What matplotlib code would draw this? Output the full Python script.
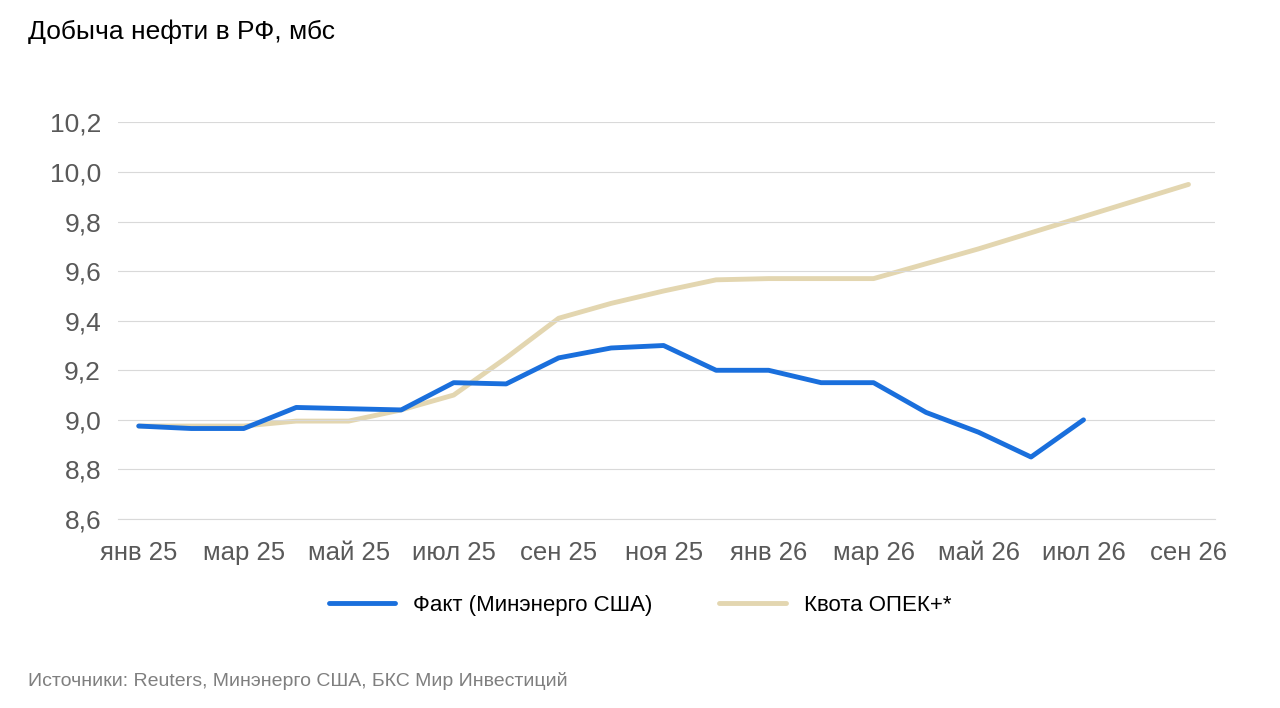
import matplotlib
matplotlib.use("Agg")
import matplotlib.pyplot as plt

months = ["янв 25","фев 25","мар 25","апр 25","май 25","июн 25","июл 25","авг 25","сен 25","окт 25","ноя 25","дек 25",
          "янв 26","фев 26","мар 26","апр 26","май 26","июн 26","июл 26","авг 26","сен 26"]
fact = [8.975, 8.965, 8.965, 9.05, 9.045, 9.04, 9.15, 9.145, 9.25, 9.29, 9.30, 9.20, 9.20, 9.15, 9.15, 9.03, 8.95, 8.85, 9.00]
quota = [8.975, 8.975, 8.975, 8.995, 8.995, 9.04, 9.10, 9.25, 9.41, 9.47, 9.52, 9.565, 9.57, 9.57, 9.57, 9.63, 9.69, 9.755, 9.82, 9.885, 9.95]
yticks = [8.6, 8.8, 9.0, 9.2, 9.4, 9.6, 9.8, 10.0, 10.2]

plt.rcParams['font.family'] = ['Liberation Sans', 'DejaVu Sans']
fig = plt.figure(figsize=(12.8, 7.08), dpi=100)
ax = fig.add_axes([0.092, 0.267, 0.857, 0.56])
x = list(range(len(months)))
ax.plot(x[:len(fact)], fact, color="#1a6fdc", lw=3.5, solid_joinstyle="round", solid_capstyle="round",
        label="Факт (Минэнерго США)")
ax.plot(x, quota, color="#e3d6b0", lw=3.5, solid_joinstyle="round", solid_capstyle="round",
        label="Квота ОПЕК+*", zorder=1)
ax.set_xlim(-0.4, 20.5)
ax.set_ylim(8.6, 10.2)
ax.set_yticks(yticks)
ax.set_yticklabels([f"{v:.1f}".replace(".", ",") for v in yticks])
ax.set_xticks(x[::2])
ax.set_xticklabels(months[::2])
ax.grid(axis="y", color="#d9d9d9", lw=0.8)
for s in ["top", "right", "left"]:
    ax.spines[s].set_visible(False)
ax.spines["bottom"].set_color("#d9d9d9")
ax.tick_params(axis="y", length=0, labelsize=19, labelcolor="#595959", pad=12)
ax.tick_params(axis="x", length=0, labelsize=18.5, labelcolor="#595959", pad=16)
fig.legend(loc="center", bbox_to_anchor=(0.5, 0.145), ncol=2, frameon=False, fontsize=16,
           handlelength=3, columnspacing=3)
fig.text(0.022, 0.955, "Добыча нефти в РФ, мбс", fontsize=19, va="center")
fig.text(0.022, 0.038, "Источники: Reuters, Минэнерго США, БКС Мир Инвестиций", fontsize=14, color="#7f7f7f", va="center")
fig.savefig("out.png", dpi=100)
